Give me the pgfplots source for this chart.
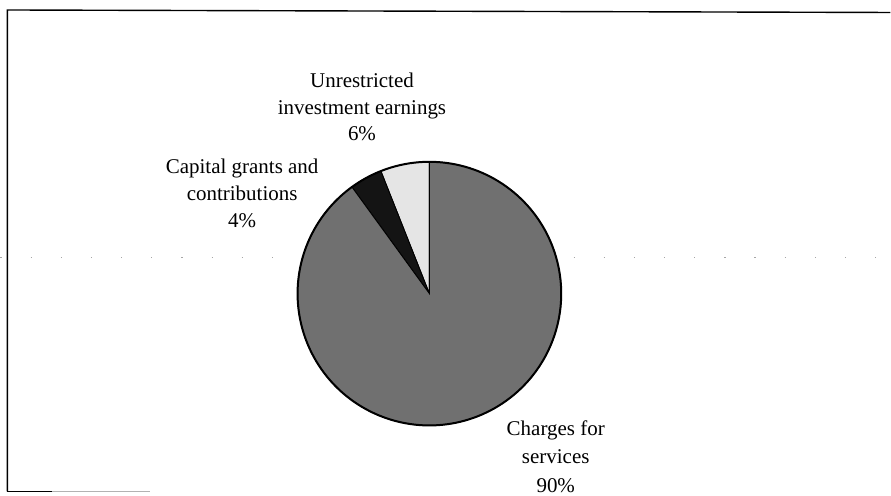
\documentclass[border=0pt]{standalone}
\usepackage{pgfplots}
\pgfplotsset{compat=1.18}
\usepackage{pgfplotstable}
\usepackage{fontspec}
\setmainfont{Liberation Serif}
% pie shares in percent (counter-clockwise from 12 o'clock)
\pgfplotstableread{
name value
Unrestricted 6
Capital 4
Charges 90
}\piedata
\pgfplotstablegetelem{0}{value}\of\piedata \let\vA\pgfplotsretval
\pgfplotstablegetelem{1}{value}\of\piedata \let\vB\pgfplotsretval
\pgfplotstablegetelem{2}{value}\of\piedata \let\vC\pgfplotsretval
\pgfmathsetmacro{\aA}{90}
\pgfmathsetmacro{\aB}{\aA+3.6*\vA}
\pgfmathsetmacro{\aC}{\aB+3.6*\vB}
\pgfmathsetmacro{\aD}{\aC+3.6*\vC}
\def\cx{429.5}
\def\cy{294}
\def\rr{132}
\begin{document}
\begin{tikzpicture}
\begin{axis}[
  width=891pt, height=495pt, scale only axis,
  xmin=0, xmax=891, ymin=0, ymax=495,
  y dir=reverse,
  axis lines=none, ticks=none,
  clip=false,
]
\path (axis cs:0,0) rectangle (axis cs:891,495);
% frame
\draw[black, line width=1.4pt] (axis cs:7,492) -- (axis cs:7,10) -- (axis cs:891,12.5);
\draw[black, line width=1.4pt] (axis cs:7,492) -- (axis cs:52,492);
\draw[black!30, line width=0.9pt] (axis cs:52,492) -- (axis cs:150,492);
% faint dotted line
\draw[black!35, line width=0.9pt, dash pattern=on 1.2pt off 29pt] (axis cs:0,258) -- (axis cs:891,258);
% wedges
\addplot[draw=black, line width=0.9pt, fill=black!10, domain=\aA:\aB, samples=20]
  ({\cx+\rr*cos(x)},{\cy-\rr*sin(x)}) -- (axis cs:\cx,\cy) -- cycle;
\addplot[draw=black, line width=0.9pt, fill=black!92, domain=\aB:\aC, samples=20]
  ({\cx+\rr*cos(x)},{\cy-\rr*sin(x)}) -- (axis cs:\cx,\cy) -- cycle;
\addplot[draw=black, line width=0.9pt, fill=black!56, domain=\aC:\aD, samples=120]
  ({\cx+\rr*cos(x)},{\cy-\rr*sin(x)}) -- (axis cs:\cx,\cy) -- cycle;
\addplot[draw=black, line width=2pt, domain=0:360, samples=180]
  ({\cx+\rr*cos(x)},{\cy-\rr*sin(x)});
% labels
\node[align=center, font=\fontsize{21}{26.5}\selectfont] at (axis cs:362,107) {Unrestricted\\investment earnings\\6\%};
\node[align=center, font=\fontsize{21}{27}\selectfont] at (axis cs:242,194) {Capital grants and\\contributions\\4\%};
\node[align=center, font=\fontsize{21}{28.5}\selectfont] at (axis cs:556,457) {Charges for\\services\\90\%};
\end{axis}
\end{tikzpicture}
\end{document}
